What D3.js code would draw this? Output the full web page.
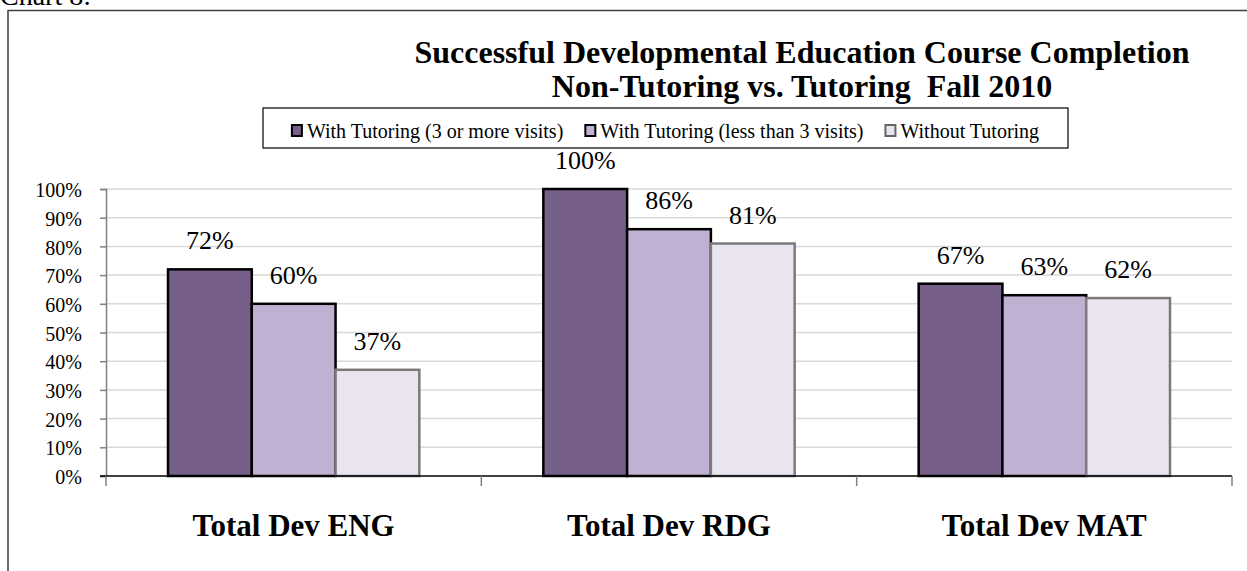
<!DOCTYPE html>
<html>
<head>
<meta charset="utf-8">
<script src="https://cdn.jsdelivr.net/npm/d3@7"></script>
<style>
  body { margin: 0; background: #fff; }
  svg { display: block; }
  svg text { font-family: "Liberation Serif", "Times New Roman", serif; }
</style>
</head>
<body>
<div id="chart"></div>
<script>
//// DATA
const categories = ['Total Dev ENG', 'Total Dev RDG', 'Total Dev MAT'];
const seriesNames = ['With Tutoring (3 or more visits)', 'With Tutoring (less than 3 visits)', 'Without Tutoring'];
const withTutoring3 = [0.72, 1.00, 0.67];
const withTutoringLess3 = [0.60, 0.86, 0.63];
const withoutTutoring = [0.37, 0.81, 0.62];
const yTicks = [0, 0.1, 0.2, 0.3, 0.4, 0.5, 0.6, 0.7, 0.8, 0.9, 1.0];
const titleLines = ['Successful Developmental Education Course Completion', 'Non-Tutoring vs. Tutoring\u00a0\u00a0Fall 2010'];

// COLORS
const fills = ['#76608a', '#c0b1d3', '#e9e4f0'];
const strokes = ['#000', '#000', '#7a7a7a'];

document.addEventListener('DOMContentLoaded', function(){
  drawChart();
});

function drawChart() {
  const W = 1247, H = 571;
  const svg = d3.select('#chart').append('svg').attr('width', W).attr('height', H);
  const serif = '"Liberation Serif", "Times New Roman", serif';

  const seriesValues = [withTutoring3, withTutoringLess3, withoutTutoring];
  // flatten into bar records
  let bars = [];
  categories.forEach(function(c, ci) {
    seriesNames.forEach(function(s, si) {
      bars.push({cat: c, series: s, si: si, value: seriesValues[si][ci]});
    });
  });

  // caption + outer frame
  svg.append('text').attr('x', 0).attr('y', 5).style('font-size', '28px').text('Chart 8:');
  svg.append('path').attr('d', 'M8,' + H + 'V10.5H' + W)
     .attr('fill', 'none').attr('stroke', '#404040').attr('stroke-width', 1.5);

  // scales
  const plot = {left: 106, right: 1232, top: 189, bottom: 476};
  const x0 = d3.scaleBand().domain(categories).range([plot.left, plot.right]).padding(0);
  const x1 = d3.scaleBand().domain(seriesNames).range([0, x0.bandwidth()]).paddingInner(0).paddingOuter(0.74);
  const y = d3.scaleLinear().domain([0, 1]).range([plot.bottom, plot.top]);

  // gridlines
  svg.append('g').selectAll('line').data(yTicks.slice(1)).enter().append('line')
     .attr('x1', plot.left).attr('x2', plot.right)
     .attr('y1', d => y(d)).attr('y2', d => y(d))
     .attr('stroke', '#d9d9d9').attr('stroke-width', 1.5);

  // y axis
  const yAxis = svg.append('g').attr('transform', 'translate(' + plot.left + ',0)')
     .call(d3.axisLeft(y).tickValues(yTicks).tickFormat(d3.format('.0%')).tickSize(6).tickPadding(18));
  yAxis.attr('font-family', null);
  yAxis.select('.domain').attr('stroke', '#808080').attr('stroke-width', 1.5);
  yAxis.selectAll('.tick line').attr('stroke', '#808080').attr('stroke-width', 1.5);
  yAxis.selectAll('text').attr('fill', '#000').style('font-family', serif)
       .style('font-size', '20px').attr('dy', '0.38em');

  // bars
  svg.append('g').selectAll('rect').data(bars).enter().append('rect')
     .attr('x', d => x0(d.cat) + x1(d.series))
     .attr('y', d => y(d.value))
     .attr('width', x1.bandwidth())
     .attr('height', d => y(0) - y(d.value))
     .attr('fill', d => fills[d.si])
     .attr('stroke', d => strokes[d.si])
     .attr('stroke-width', 2.5);

  // x axis (baseline + category ticks)
  const xAxis = svg.append('g').attr('transform', 'translate(0,' + plot.bottom + ')');
  xAxis.append('line').attr('x1', plot.left - 6).attr('x2', plot.right)
       .attr('stroke', '#000').attr('stroke-width', 1.5);
  const bounds = categories.map(c => x0(c)).concat([plot.right]);
  xAxis.selectAll('.xtick').data(bounds).enter().append('line')
       .attr('x1', d => d).attr('x2', d => d).attr('y1', 0).attr('y2', 10)
       .attr('stroke', '#808080').attr('stroke-width', 1.5);
  xAxis.selectAll('.cat').data(categories).enter().append('text')
       .attr('x', d => x0(d) + x0.bandwidth() / 2).attr('y', 60)
       .attr('text-anchor', 'middle').style('font-family', serif)
       .style('font-size', '31px').style('font-weight', 'bold')
       .text(d => d);

  // data labels
  svg.append('g').selectAll('text').data(bars).enter().append('text')
     .attr('x', d => x0(d.cat) + x1(d.series) + x1.bandwidth() / 2)
     .attr('y', d => y(d.value) - 20)
     .attr('text-anchor', 'middle').style('font-family', serif).style('font-size', '26px')
     .text(d => d3.format('.0%')(d.value));

  // title
  svg.append('g').selectAll('text').data(titleLines).enter().append('text')
     .attr('x', 802).attr('y', (d, i) => 63 + i * 34)
     .attr('text-anchor', 'middle').style('font-family', serif)
     .style('font-size', '32px').style('font-weight', 'bold')
     .text(d => d);

  // legend
  const legend = svg.append('g');
  const legBox = legend.append('rect').attr('fill', '#fff').attr('stroke', '#000').attr('stroke-width', 1.2);
  let lx = 0;
  const items = legend.selectAll('.leg').data(seriesNames).enter().append('g');
  items.each(function(d, i) {
    const g = d3.select(this);
    g.append('rect').attr('x', lx).attr('y', -13).attr('width', 10).attr('height', 11)
     .attr('fill', fills[i]).attr('stroke', i == 2 ? '#666' : '#000').attr('stroke-width', 2);
    const t = g.append('text').attr('x', lx + 15).attr('y', 0)
               .style('font-family', serif).style('font-size', '20px').text(d);
    lx += 15 + t.node().getComputedTextLength() + 22;
  });
  const legW = lx - 22;
  const legX = (263 + 1068) / 2 - legW / 2;
  items.attr('transform', 'translate(' + legX + ',138)');
  legBox.attr('x', 263).attr('y', 108).attr('width', 1068 - 263).attr('height', 40);
}
</script>
</body>
</html>
